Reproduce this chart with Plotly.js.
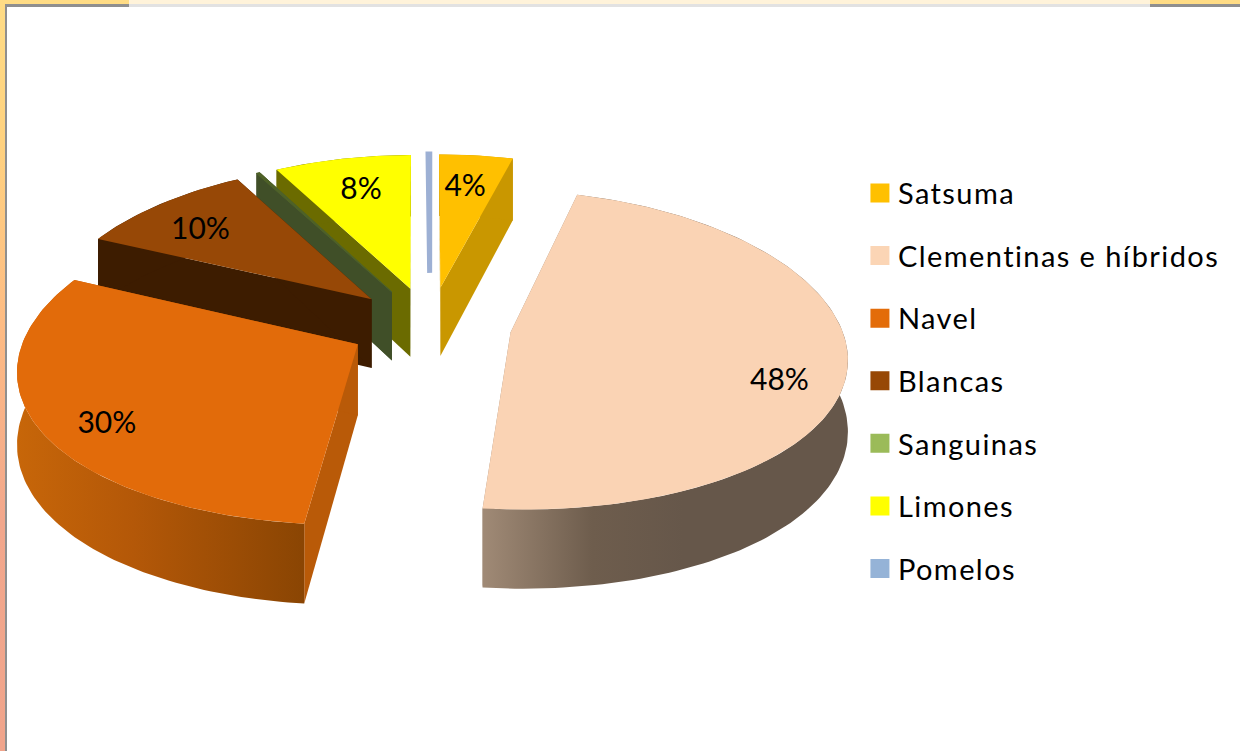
<!DOCTYPE html>
<html>
<head>
<meta charset="utf-8">
<script src="https://cdn.plot.ly/plotly-3.0.1.min.js"></script>
<style>
html,body{margin:0;padding:0;width:1240px;height:751px;overflow:hidden;
background:linear-gradient(to bottom,#ffdc85 0,#ffd27f 140px,#fdbb84 330px,#f2a78c 520px,#f0a48b 751px);}
#chart{position:absolute;left:0;top:0;width:1240px;height:751px;}
.legendtext{letter-spacing:1.42px;transform:translateX(-2px);}
</style>
</head>
<body>
<div id="chart"></div>
<script>
// --- data ---
const categories = ["Satsuma","Clementinas e híbridos","Navel","Blancas","Sanguinas","Limones","Pomelos"];
const values = [4.2, 47.5, 30.2, 10.0, 0.2, 7.8, 0.1];
const showPct = [true, true, true, true, false, true, false];

// --- styles ---
const swatchColors = ["#ffc000","#fbd5b5","#e36c09","#974806","#9bbb59","#ffff00","#95b3d7"];
const topColors    = ["#ffc000","#fad3b4","#e26b0a","#974806","#4f6228","#ffff00","#9db0d4"];
const faceColors   = ["#c99700","#9e8773","#b95a08","#3d1c00","#404f28","#6b6b00","#8c9ab8"];
const rimColors    = ["#c99700",[[0,"#a08a76"],[0.3,"#6e5d4d"],[0.55,"#66574a"],[1,"#66574a"]],
                      [[0,"#c76609"],[0.4,"#b45808"],[1,"#8a4503"]],"#3d1c00","#404f28","#6b6b00","#8c9ab8"];
const drawSides    = [true,true,true,true,true,true,false];
const innerCut     = [0,0,0,0,0,0,0.1];
const lineWidths   = [0,0,0,0,1,0,5];
const labelRadius  = [0.75,0.82,0.826,0.764,0.75,0.75,0.75];
const labelFrac    = [0.45,0.56,0.458,0.44,0.5,0.53,0.5];
const paintOrder   = [6,0,5,4,3,1,2];

// --- projection of the exploded 3D pie ---
const cx=430, cy=325, scaleX=330, scaleY=156, perspX=0.14, perspY=0.111, explode=0.247, depth=70, labelNudge=3;
const rad=d=>d*Math.PI/180;
function proj(X,Y,z){const wx=1+perspX*Y, wy=1+perspY*Y;return [cx+scaleX*X/wx, cy-scaleY*Y/wy+(z?depth/wy:0)];}

const total=values.reduce((a,b)=>a+b,0);
let acc=0;
const slices=values.map((v,i)=>{
  const a0=acc/total*360; acc+=v; const a1=acc/total*360; const mid=(a0+a1)/2;
  return {i,a0,a1,mid,ax:explode*Math.sin(rad(mid)),ay:explode*Math.cos(rad(mid))};
});
function rimPt(s,ang,r=1){return [s.ax+r*Math.sin(rad(ang)), s.ay+r*Math.cos(rad(ang))];}
function arc(s,z,rev){
  const n=Math.max(2,Math.ceil((s.a1-s.a0)/1.2)), pts=[];
  for(let k=0;k<=n;k++){const a=s.a0+(s.a1-s.a0)*k/n;const p=rimPt(s,a);pts.push(proj(p[0],p[1],z));}
  return rev?pts.reverse():pts;
}
function poly(pts,color,extra){
  return Object.assign({type:"scatter",mode:"lines",x:pts.map(p=>p[0]).concat(pts[0][0]),y:pts.map(p=>p[1]).concat(pts[0][1]),
    fill:"toself",fillcolor:color,line:{width:0,color:color},hoverinfo:"skip",showlegend:false},extra||{});
}

const traces=[];
// legend entries
categories.forEach((c,i)=>traces.push({type:"scatter",mode:"markers",x:[null],y:[null],name:c,legendgroup:"g"+i,
  marker:{symbol:"square",size:16,color:swatchColors[i],line:{width:3,color:swatchColors[i]}},hoverinfo:"skip"}));

// painter's order: back slices first
paintOrder.forEach(i=>{
  const s=slices[i];
  const a=proj(s.ax,s.ay,false), aL=proj(s.ax,s.ay,true);
  if(drawSides[i]){
    const p0=rimPt(s,s.a0), p1=rimPt(s,s.a1);
    traces.push(poly([a,proj(p0[0],p0[1],false),proj(p0[0],p0[1],true),aL],faceColors[i]));
    traces.push(poly([a,proj(p1[0],p1[1],false),proj(p1[0],p1[1],true),aL],faceColors[i]));
    const rimPts=arc(s,false,false).concat(arc(s,true,true));
    const rc=rimColors[i];
    if(Array.isArray(rc)) traces.push(poly(rimPts,"#66574a",{fillgradient:{type:"horizontal",colorscale:rc}}));
    else traces.push(poly(rimPts,rc));
  }
  const inner=rimPt(s,s.mid,innerCut[i]);
  const top=[proj(inner[0],inner[1],false)].concat(arc(s,false,false));
  traces.push(poly(top,topColors[i],{line:{width:lineWidths[i],color:topColors[i]}}));
});

// percent labels
const lx=[],ly=[],lt=[];
slices.forEach(s=>{
  if(!showPct[s.i])return;
  const ang=s.a0+(s.a1-s.a0)*labelFrac[s.i];
  const p=rimPt(s,ang,labelRadius[s.i]), q=proj(p[0],p[1],false);
  lx.push(q[0]);ly.push(q[1]+labelNudge);lt.push(Math.round(values[s.i]/total*100)+"%");
});
traces.push({type:"scatter",mode:"text",x:lx,y:ly,text:lt,textposition:"middle center",
  textfont:{family:"Lato, sans-serif",size:30,color:"#000"},hoverinfo:"skip",showlegend:false});

const rect=(x0,y0,x1,y1,c)=>({type:"rect",xref:"x",yref:"y",x0,y0,x1,y1,fillcolor:c,line:{width:0},layer:"below"});
const layout={
  width:1240,height:751,margin:{l:0,r:0,t:0,b:0,pad:0},
  paper_bgcolor:"rgba(0,0,0,0)",plot_bgcolor:"rgba(0,0,0,0)",
  xaxis:{range:[0,1240],visible:false,fixedrange:true},
  yaxis:{range:[751,0],visible:false,fixedrange:true},
  showlegend:true,
  legend:{x:0.6935,y:0.7768,xanchor:"left",yanchor:"top",bgcolor:"rgba(0,0,0,0)",itemsizing:"trace",itemwidth:30,
    tracegroupgap:21.9,traceorder:"grouped",font:{family:"Lato, sans-serif",size:29,color:"#000"}},
  shapes:[
    rect(0,0,1240,4,"#ffdc85"),
    rect(129,0,1150,4,"#fff3da"),
    rect(5,4,1240,751,"#8f8f8f"),
    rect(129,4,1150,7,"#e2e2e2"),
    rect(7,7,1240,751,"#ffffff")
  ]
};
Plotly.newPlot("chart",traces,layout,{displayModeBar:false,staticPlot:true});
</script>
</body>
</html>
